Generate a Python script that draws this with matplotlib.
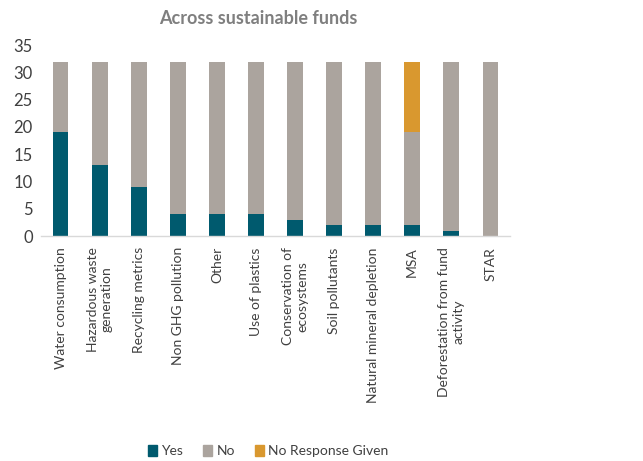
import matplotlib
matplotlib.use("Agg")
import matplotlib.pyplot as plt
import numpy as np
from matplotlib.patches import Patch

categories = [
    "Water consumption",
    "Hazardous waste\ngeneration",
    "Recycling metrics",
    "Non GHG pollution",
    "Other",
    "Use of plastics",
    "Conservation of\necosystems",
    "Soil pollutants",
    "Natural mineral depletion",
    "MSA",
    "Deforestation from fund\nactivity",
    "STAR",
]
yes = [19, 13, 9, 4, 4, 4, 3, 2, 2, 2, 1, 0]
no = [13, 19, 23, 28, 28, 28, 29, 30, 30, 17, 31, 32]
no_response = [0, 0, 0, 0, 0, 0, 0, 0, 0, 13, 0, 0]
yticks = [0, 5, 10, 15, 20, 25, 30, 35]

plt.rcParams["font.family"] = ["Lato", "DejaVu Sans"]

c_yes = "#005A6E"
c_no = "#ABA49E"
c_nr = "#D9982F"
txt = "#404040"

fig = plt.figure(figsize=(6.43, 4.61), dpi=100)
ax = fig.add_axes([0.064, 0.488, 0.729, 0.414])

x = np.arange(len(categories))
w = 0.4
yes_a = np.array(yes)
no_a = np.array(no)
nr_a = np.array(no_response)
ax.bar(x, yes_a, w, color=c_yes, label="Yes")
ax.bar(x, no_a, w, bottom=yes_a, color=c_no, label="No")
ax.bar(x, nr_a, w, bottom=yes_a + no_a, color=c_nr, label="No Response Given")

ax.set_xlim(-0.5, len(categories) - 0.5)
ax.set_ylim(0, 35)
ax.set_yticks(yticks)
ax.tick_params(axis="y", length=0, labelsize=12, labelcolor=txt, pad=6)
ax.set_xticks(x)
ax.set_xticklabels(categories, rotation=90, fontsize=10, color=txt,
                   ha="center", va="top", multialignment="center")
ax.tick_params(axis="x", length=0, pad=8)

for s in ["top", "right", "left"]:
    ax.spines[s].set_visible(False)
ax.spines["bottom"].set_color("#D9D9D9")
ax.spines["bottom"].set_linewidth(1)

fig.text(0.401, 0.96, "Across sustainable funds", ha="center", va="center",
         fontsize=13, fontweight="bold", color="#7F7F7F")

handles = [Patch(color=c_yes), Patch(color=c_no), Patch(color=c_nr)]
fig.legend(handles, ["Yes", "No", "No Response Given"], loc="center",
           bbox_to_anchor=(0.417, 0.022), ncol=3, frameon=False, fontsize=10,
           labelcolor=txt, handlelength=0.7, handleheight=0.9,
           handletextpad=0.3, columnspacing=1.4)

fig.savefig("out.png", dpi=100, facecolor="white")
